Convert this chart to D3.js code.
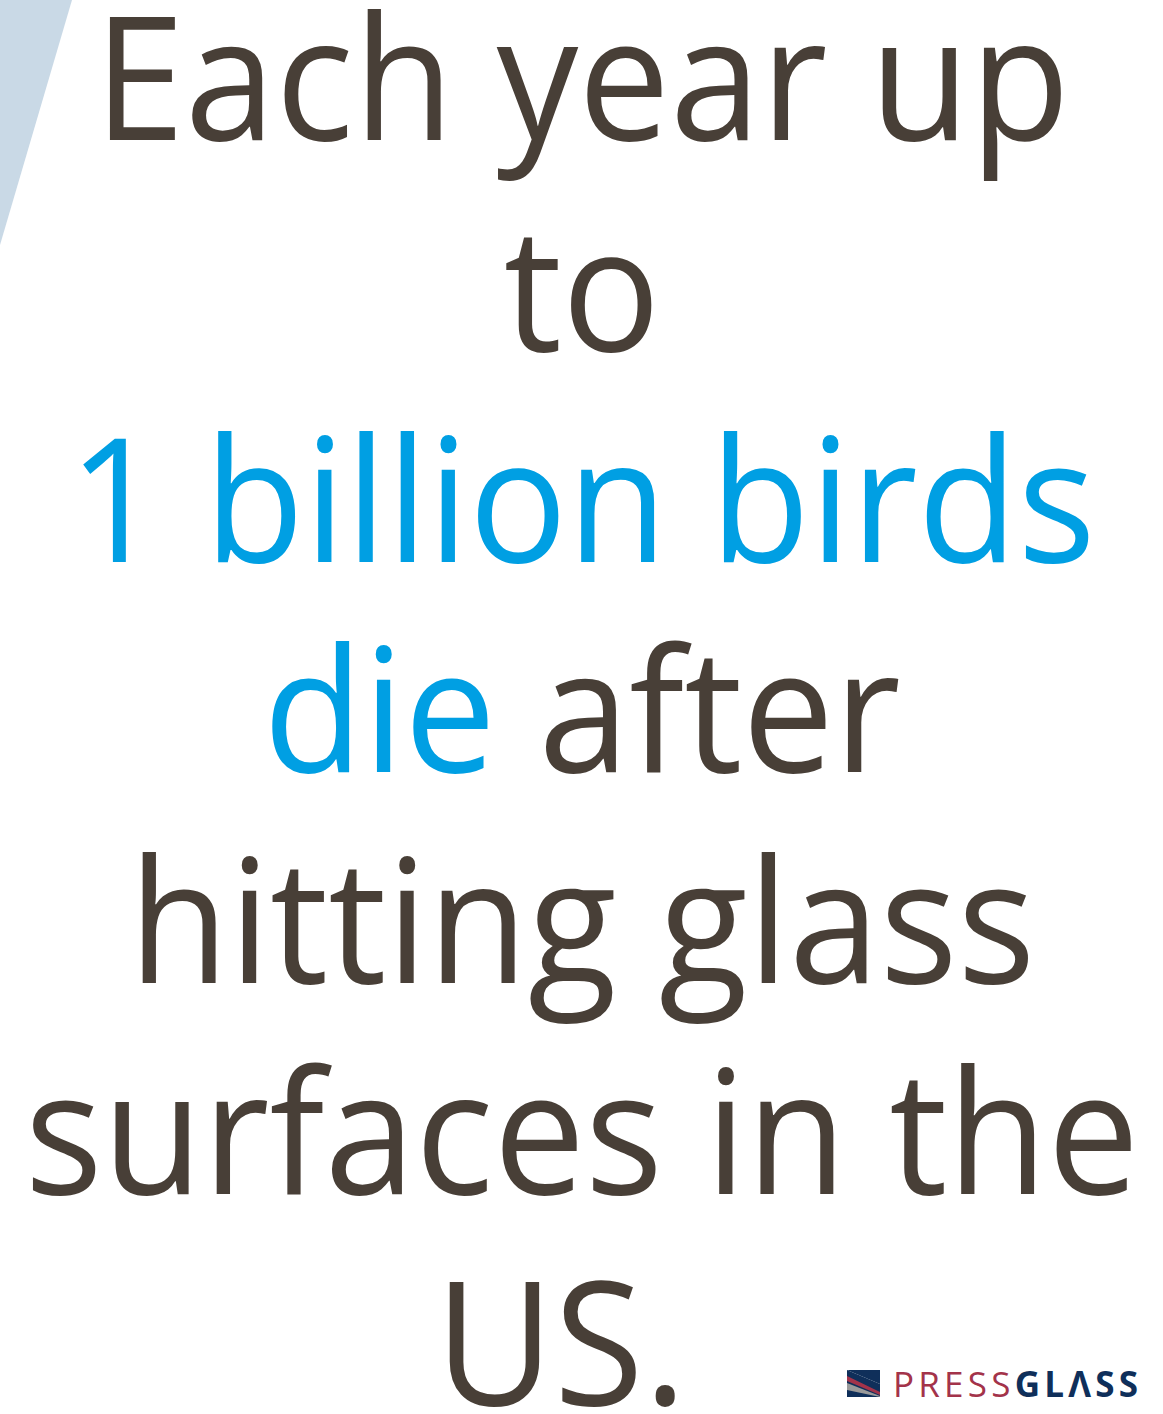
<!doctype html>
<html>
<head>
    <style>
        body { margin: 0; background: #fff; }
        svg { display: block; }
        .line text { font-family: "Open Sans", sans-serif; text-anchor: middle; }
    </style>
    <script src="https://d3js.org/d3.v7.min.js"></script>
</head>
<body>
    <script>
        // lines of the headline, each a list of [text, tone]
        const lines = [
            [["Each year up", "dark"]],
            [["to", "dark"]],
            [["1 billion birds", "blue"]],
            [["die", "blue"], [" after", "dark"]],
            [["hitting glass", "dark"]],
            [["surfaces in the", "dark"]],
            [["US.\u00a0", "dark"]]
        ]
        const tones = { dark: "#483f37", blue: "#009fe3" }

        const width = 1163, height = 1414
        const svg = d3.select("body").append("svg")
            .attr("width", width)
            .attr("height", height)

        // light blue corner shape
        svg.append("polygon")
            .attr("points", "0,0 72,0 0,245")
            .attr("fill", "#c9d9e6")

        const y = d3.scaleLinear().domain([0, lines.length - 1]).range([140, 1405])

        // Open Sans runs a bit wider than the original face, squeeze it
        const cx = 582
        const g = svg.append("g").attr("class", "line")
            .attr("transform", `translate(${cx},0) scale(0.944,1)`)
        const t = g.selectAll("text")
            .data(lines)
            .enter()
            .append("text")
            .attr("x", 0)
            .attr("y", (d, i) => y(i))
            .attr("font-size", 173)

        t.selectAll("tspan")
            .data(d => d)
            .enter()
            .append("tspan")
            .attr("fill", d => tones[d[1]])
            .style("white-space", "pre")
            .text(d => d[0])

        // logo
        const logo = svg.append("g").attr("transform", "translate(847,1370)")
        logo.append("path").attr("d", "M0,0 L33,0 L33,14 Z").attr("fill", "#0f2f5a")
        logo.append("path").attr("d", "M0,0 L33,14 L33,27 L0,27 Z").attr("fill", "#0f2f5a")
        logo.append("path").attr("d", "M0,6 L33,22 L33,25 L0,11 Z").attr("fill", "#a3334a")
        logo.append("path").attr("d", "M0,13 L33,26 L33,27 L0,20 Z").attr("fill", "#9a9a9a")

        const brand = logo.append("text")
            .attr("x", 46).attr("y", 27)
            .attr("font-family", "'Open Sans', sans-serif")
            .attr("font-size", 35)
            .attr("textLength", 245)
            .attr("lengthAdjust", "spacing")
        brand.append("tspan").attr("fill", "#a3334a").text("PRESS")
        brand.append("tspan").attr("fill", "#0f2f5a").attr("font-weight", "bold").text("GLΛSS")
    </script>
</body>
</html>
